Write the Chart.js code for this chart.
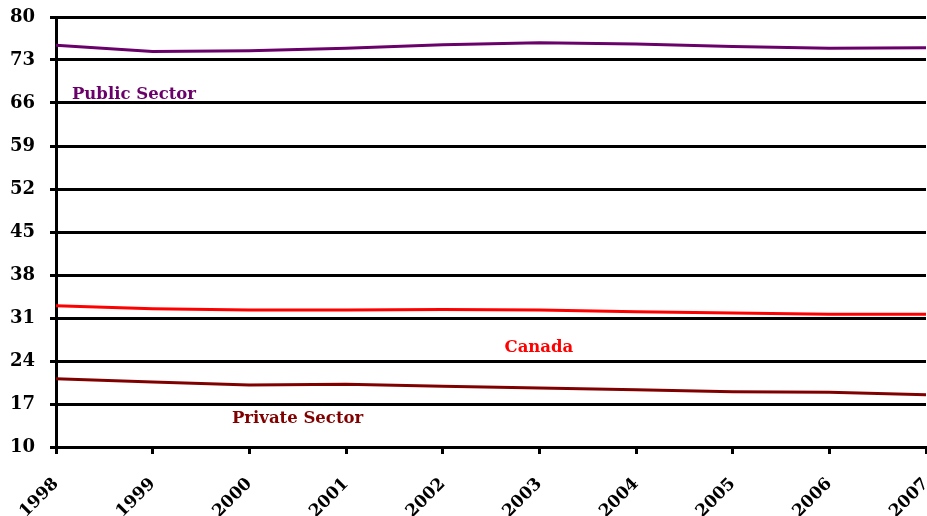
<!DOCTYPE html>
<html>
<head>
<meta charset="utf-8">
<script src="https://cdn.jsdelivr.net/npm/chart.js@4/dist/chart.umd.min.js"></script>
<style>
html,body{margin:0;padding:0;background:#fff;}
#wrap{width:927px;height:516px;}
</style>
</head>
<body>
<div id="wrap"><canvas id="c" width="927" height="516"></canvas></div>
<script>
const years = ['1998','1999','2000','2001','2002','2003','2004','2005','2006','2007'];
const publicSector = [75.4, 74.4, 74.5, 74.9, 75.5, 75.8, 75.6, 75.2, 74.9, 75.0];
const canada = [33.0, 32.5, 32.3, 32.3, 32.4, 32.3, 32.0, 31.8, 31.6, 31.6];
const privateSector = [21.1, 20.6, 20.1, 20.2, 19.9, 19.6, 19.3, 19.0, 18.9, 18.5];
const yTicks = [10, 17, 24, 31, 38, 45, 52, 59, 66, 73, 80];
const seriesNames = ['Public Sector', 'Canada', 'Private Sector'];

const labelPlugin = {
  id: 'seriesLabels',
  afterDatasetsDraw(chart) {
    const {ctx, scales:{x, y}} = chart;
    const items = [
      {text: seriesNames[0], xi: 0.165, yv: 67.4, color: '#6a006a'},
      {text: seriesNames[1], xi: 4.64, yv: 26.2, color: '#ff0000'},
      {text: seriesNames[2], xi: 1.82, yv: 14.6, color: '#800000'}
    ];
    ctx.save();
    ctx.font = 'bold 16.5px "DejaVu Serif"';
    ctx.textBaseline = 'middle';
    ctx.textAlign = 'left';
    items.forEach(it => {
      ctx.fillStyle = it.color;
      ctx.fillText(it.text, x.getPixelForValue(it.xi), y.getPixelForValue(it.yv));
    });
    ctx.restore();
  }
};

new Chart(document.getElementById('c'), {
  type: 'line',
  data: {
    labels: years,
    datasets: [
      {label: seriesNames[0], data: publicSector, borderColor: '#6a006a', borderWidth: 3, pointRadius: 0, tension: 0},
      {label: seriesNames[1], data: canada, borderColor: '#ff0000', borderWidth: 3, pointRadius: 0, tension: 0},
      {label: seriesNames[2], data: privateSector, borderColor: '#800000', borderWidth: 3, pointRadius: 0, tension: 0}
    ]
  },
  options: {
    responsive: false,
    animation: false,
    devicePixelRatio: 1,
    layout: {padding: {left: 0, right: 1, top: 17, bottom: 0}},
    plugins: {legend: {display: false}, tooltip: {enabled: false}},
    scales: {
      x: {
        type: 'category',
        offset: false,
        grid: {drawOnChartArea: false, drawTicks: true, color: '#000', lineWidth: 3, tickLength: 7},
        border: {display: true, color: '#000', width: 3},
        ticks: {
          minRotation: 45, maxRotation: 45, autoSkip: false,
          color: '#000', padding: 20,
          font: {family: '"DejaVu Serif"', weight: 'bold', size: 17}
        },
        afterFit(s) { s.height = 69; s.paddingLeft = 0; s.paddingRight = 0; }
      },
      y: {
        min: 10, max: 80,
        afterBuildTicks(s) { s.ticks = yTicks.map(v => ({value: v})); },
        grid: {color: '#000', lineWidth: 3, tickLength: 6, drawTicks: true},
        border: {display: true, color: '#000', width: 3},
        ticks: {
          color: '#000', padding: 15,
          font: {family: '"DejaVu Serif"', weight: 'bold', size: 18}
        },
        afterFit(s) { s.width = 56; s.paddingTop = 0; s.paddingBottom = 0; }
      }
    }
  },
  plugins: [labelPlugin]
});
</script>
</body>
</html>
